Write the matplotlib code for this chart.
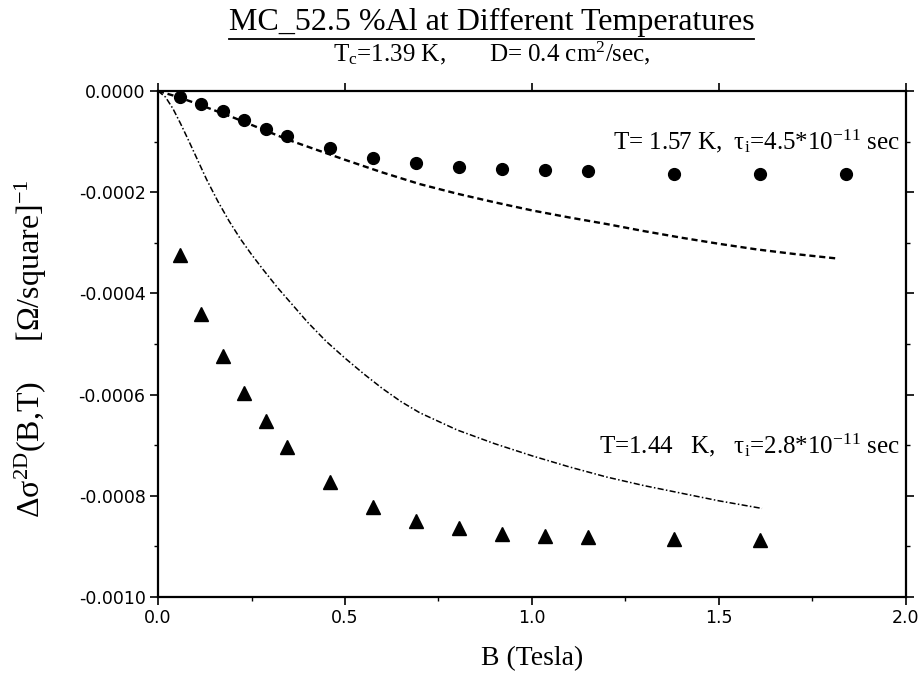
import matplotlib
matplotlib.use('Agg')
import matplotlib.pyplot as plt
from matplotlib.lines import Line2D
from matplotlib.ticker import MultipleLocator

plt.rcParams['mathtext.fontset'] = 'custom'
plt.rcParams['mathtext.rm'] = 'Liberation Serif'
plt.rcParams['mathtext.it'] = 'Liberation Serif:italic'
plt.rcParams['mathtext.bf'] = 'Liberation Serif:bold'
plt.rcParams['axes.unicode_minus'] = False

# ---- data ----
b_circ = [0.0575, 0.115, 0.1725, 0.23, 0.2875, 0.345, 0.46, 0.575, 0.69,
          0.805, 0.92, 1.035, 1.15, 1.38, 1.61, 1.84]
sig_circ = [-0.000012, -0.000025, -0.000040, -0.000058, -0.000076, -0.000089,
            -0.000112, -0.000132, -0.000142, -0.000150, -0.000154, -0.000156,
            -0.000158, -0.000164, -0.000165, -0.000165]

b_tri = [0.0575, 0.115, 0.1725, 0.23, 0.2875, 0.345, 0.46, 0.575, 0.69,
         0.805, 0.92, 1.035, 1.15, 1.38, 1.61]
sig_tri = [-0.000324, -0.000441, -0.000524, -0.000597, -0.000652, -0.000704,
           -0.000773, -0.000823, -0.000849, -0.000864, -0.000875, -0.000880,
           -0.000881, -0.000885, -0.000887]

b_fit157 = [0.0, 0.05, 0.1, 0.2, 0.3, 0.35, 0.4, 0.5, 0.6, 0.7, 0.8, 0.9,
            1.0, 1.1, 1.2, 1.3, 1.4, 1.5, 1.6, 1.7, 1.815]
sig_fit157 = [0.0, -0.000011, -0.000024, -0.000052, -0.000082, -0.000097,
              -0.000110, -0.000136, -0.000161, -0.000184, -0.000203, -0.000220,
              -0.000236, -0.000250, -0.000263, -0.000277, -0.000290, -0.000302,
              -0.000313, -0.000322, -0.000331]

b_fit144 = [0.0, 0.02, 0.04, 0.06, 0.08, 0.1, 0.13, 0.16, 0.19, 0.22, 0.25,
            0.28, 0.32, 0.36, 0.4, 0.45, 0.5, 0.55, 0.6, 0.65, 0.7, 0.8, 0.9,
            1.0, 1.1, 1.2, 1.3, 1.4, 1.5, 1.615]
sig_fit144 = [0.0, -0.000012, -0.000035, -0.000064, -0.000095, -0.000127,
              -0.000175, -0.000218, -0.000257, -0.000292, -0.000323, -0.000352,
              -0.000389, -0.000423, -0.000457, -0.000495, -0.000528, -0.000559,
              -0.000588, -0.000614, -0.000636, -0.000670, -0.000697, -0.000721,
              -0.000743, -0.000763, -0.000780, -0.000795, -0.000810, -0.000825]

x_ticks = [0.0, 0.5, 1.0, 1.5, 2.0]
x_tick_labels = ['0.0', '0.5', '1.0', '1.5', '2.0']
y_ticks = [0.0, -0.0002, -0.0004, -0.0006, -0.0008, -0.0010]
y_tick_labels = ['0.0000', '-0.0002', '-0.0004', '-0.0006', '-0.0008', '-0.0010']

title_text = 'MC_52.5 %Al at Different Temperatures'
subtitle_text = r'T$_\mathrm{c}$=1.39 K,       D= 0.4 cm$^{2}$/sec,'
label_157 = r'T= 1.57 K,  τ$_\mathrm{i}$=4.5*10$^{-11}$ sec'
label_144 = r'T=1.44   K,   τ$_\mathrm{i}$=2.8*10$^{-11}$ sec'
xlabel_text = 'B (Tesla)'
ylabel_text = r'Δσ$^{\mathrm{2D}}$(B,T)     [Ω/square]$^{-1}$'

# ---- figure ----
fig = plt.figure(figsize=(9.24, 6.78), dpi=100)
ax = fig.add_axes([0.171, 0.1195, 0.8095, 0.7463])

ax.plot(b_fit157, sig_fit157, color='black', lw=1.7, dashes=(2.6, 1.6))
ax.plot(b_fit144, sig_fit144, color='black', lw=1.1, dashes=(4, 1.5, 1, 1.5))
ax.plot(b_circ, sig_circ, 'o', color='black', ms=8.5, linestyle='none')
ax.plot(b_tri, sig_tri, '^', color='black', ms=9.5, linestyle='none')

ax.set_xlim(0, 2.0)
ax.set_ylim(-0.0010, 0.0)
ax.set_xticks(x_ticks)
ax.set_xticklabels(x_tick_labels)
ax.set_yticks(y_ticks)
ax.set_yticklabels(y_tick_labels)
ax.xaxis.set_minor_locator(MultipleLocator(0.25))
ax.yaxis.set_minor_locator(MultipleLocator(0.0001))

for lab in ax.get_xticklabels() + ax.get_yticklabels():
    lab.set_family('DejaVu Sans')
    lab.set_fontsize(12.5)

ax.tick_params(axis='both', which='major', direction='out', length=6, width=1.2,
               pad=3, top=True, right=True)
ax.tick_params(axis='both', which='minor', direction='out', length=3, width=1.0,
               top=False, right=True)
ax.tick_params(axis='y', which='minor', left=True)
for sp in ax.spines.values():
    sp.set_linewidth(1.6)

ax.set_xlabel(xlabel_text, family='Liberation Serif', fontsize=20)
ax.xaxis.set_label_coords(0.5, -0.098)
ax.set_ylabel(ylabel_text, family='Liberation Serif', fontsize=23)
ax.yaxis.set_label_coords(-0.146, 0.49)

ax.text(1.985, -0.0001, label_157, family='Liberation Serif', fontsize=18,
        ha='right', va='center')
ax.text(1.985, -0.0007, label_144, family='Liberation Serif', fontsize=18,
        ha='right', va='center')

t = fig.text(0.532, 0.956, title_text, family='Liberation Serif', fontsize=23,
             ha='center', va='baseline')
fig.text(0.532, 0.909, subtitle_text, family='Liberation Serif', fontsize=18,
         ha='center', va='baseline')

fig.canvas.draw()
bb = t.get_window_extent(renderer=fig.canvas.get_renderer())
fw, fh = fig.bbox.width, fig.bbox.height
y_ul = (bb.y0 - 2) / fh
fig.add_artist(Line2D([bb.x0 / fw, bb.x1 / fw], [y_ul, y_ul],
                      transform=fig.transFigure, color='black', lw=1.3))

fig.savefig('out.png', dpi=100)
